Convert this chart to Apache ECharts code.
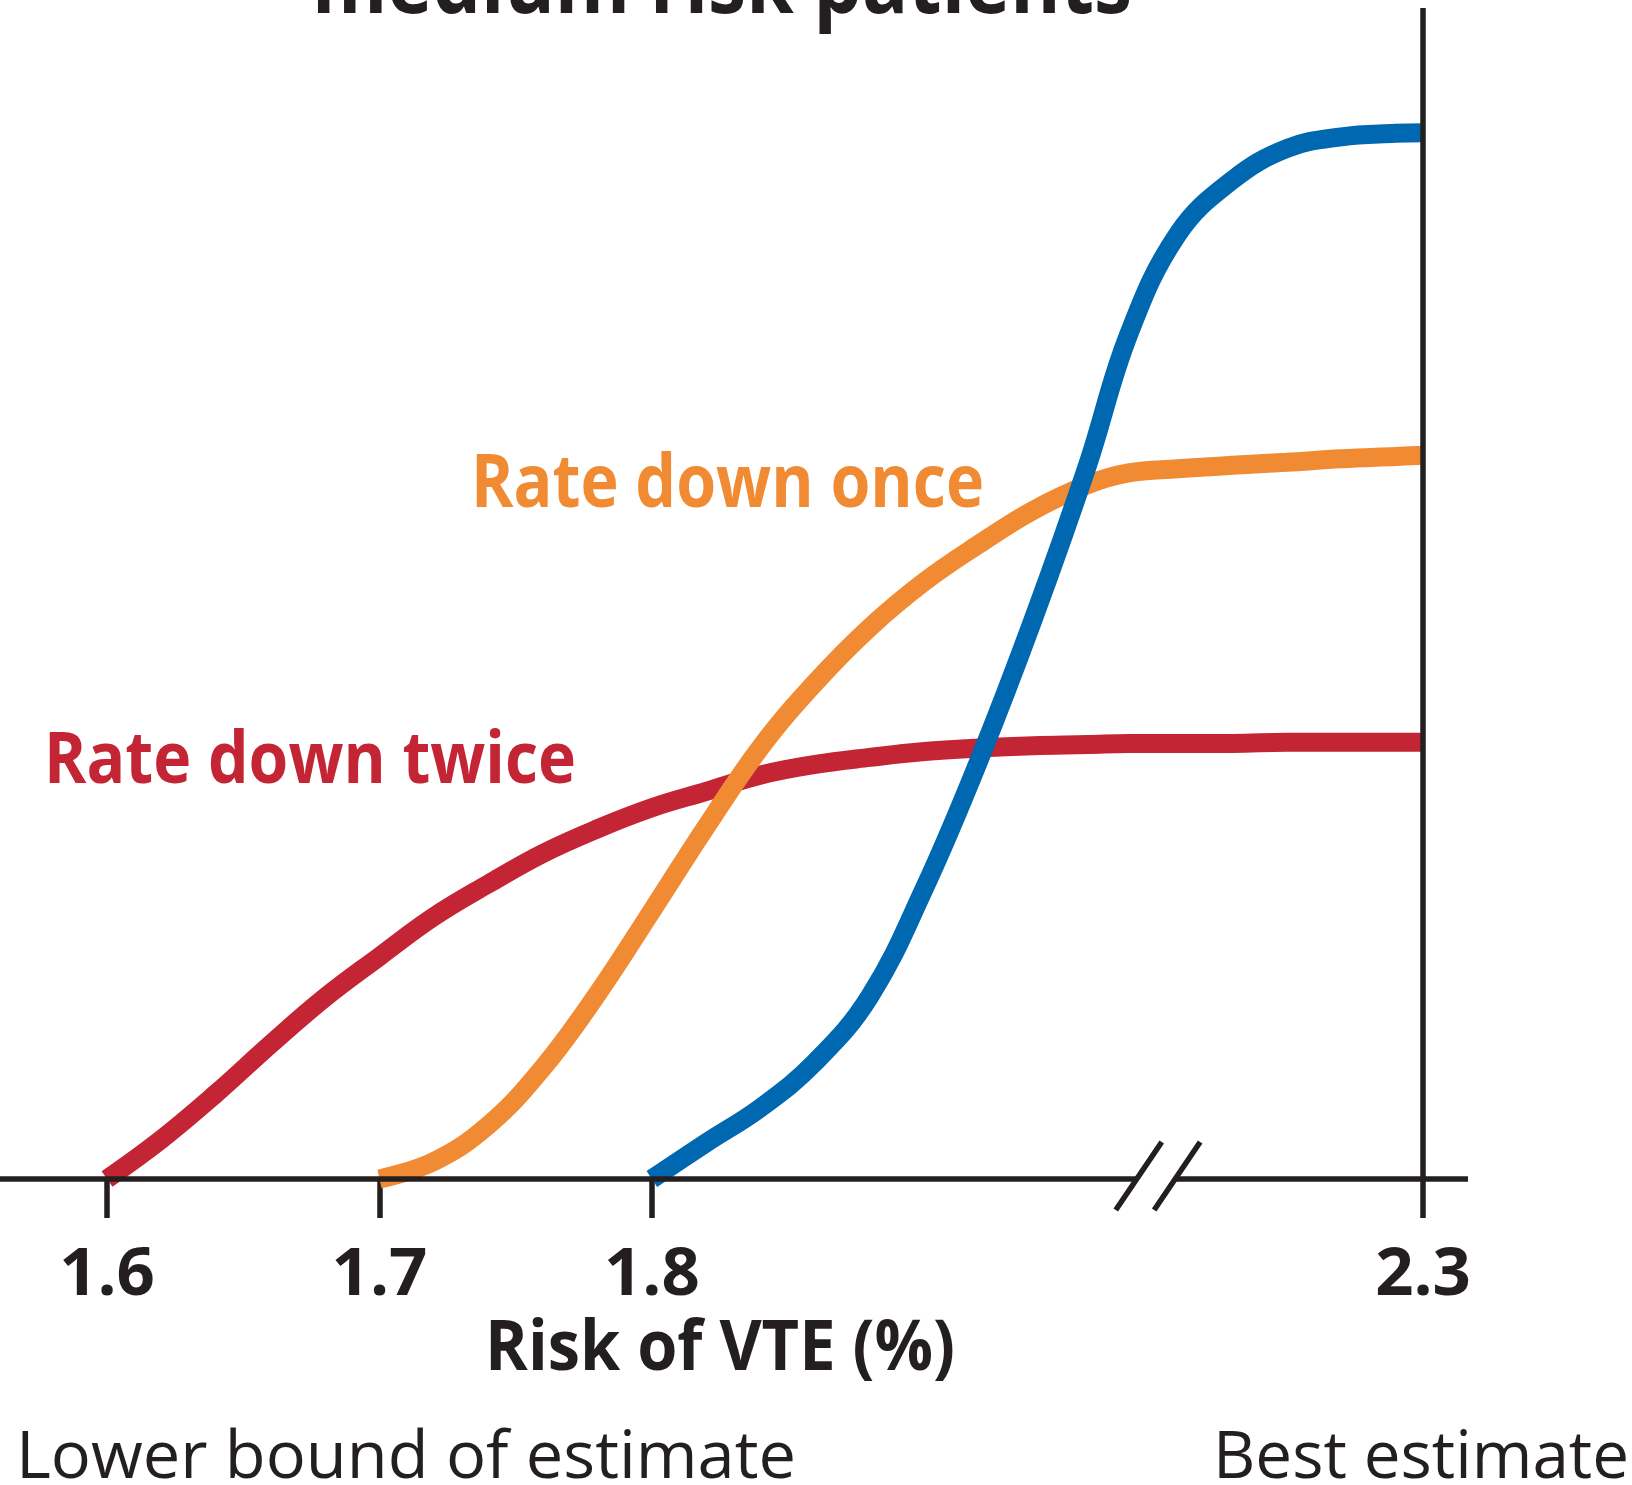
<!DOCTYPE html>
<html>
<head>
<meta charset="utf-8">
<script src="https://cdn.jsdelivr.net/npm/echarts@6/dist/echarts.min.js"></script>
<style>
html,body{margin:0;padding:0;background:#ffffff;}
#chart{width:1632px;height:1485px;}
</style>
</head>
<body>
<div id="chart"></div>
<script>
// ---------- data ----------
const riskX = [1.60,1.62,1.64,1.66,1.68,1.70,1.72,1.74,1.76,1.78,1.80,1.82,1.84,1.86,1.88,1.90,1.92,1.94,1.96,1.975,2.21,2.23,2.25,2.27,2.29,2.30];
const rateDownTwice = [0,3.4,7.3,11.5,15.5,19.0,22.4,25.2,27.8,29.9,31.7,33.1,34.5,35.4,36.0,36.5,36.8,37.0,37.1,37.2,37.2,37.2,37.3,37.3,37.3,37.3];
const rateDownOnce  = [null,null,null,null,null,0,1.5,4.6,9.5,15.8,22.9,30.1,36.9,42.4,47.1,51.0,54.2,57.1,59.3,60.3,60.65,60.95,61.2,61.5,61.7,61.8];
const notRatedDown  = [null,null,null,null,null,null,null,null,null,null,0,3.1,6.1,10.0,15.6,24.8,35.7,47.8,61.0,72.1,80.7,85.3,88.0,89.0,89.3,89.35];
const tickValues = [1.6,1.7,1.8,2.3];
const tickLabels = ['1.6','1.7','1.8','2.3'];
const axisBreak = {start:1.978, end:2.209, gap:0.0141};
const xRange = [1.5607, 2.3165];
const yRange = [0, 100];

const titleText = 'medium risk patients';
const xAxisTitle = 'Risk of VTE (%)';
const onceLabel = 'Rate down once';
const twiceLabel = 'Rate down twice';
const lowerBoundText = 'Lower bound of estimate';
const bestText = 'Best estimate';

// ---------- styling ----------
const INK = '#231f20';
const RED = '#c42535';
const ORANGE = '#f08b33';
const BLUE = '#0067b1';
const FONT = '"Open Sans", "Noto Sans", sans-serif';

function pairs(ys){
  const out = [];
  riskX.forEach((x,i)=>{ if (ys[i] != null) out.push([x, ys[i]]); });
  return out;
}

const chart = echarts.init(document.getElementById('chart'), null, {renderer:'canvas'});

function curve(name, ys, color, w){
  return {
    name, type:'line', data: pairs(ys), smooth:0.4,
    showSymbol:false, symbol:'none', z:2, animation:false,
    itemStyle:{color},
    lineStyle:{color:color, width:w},
    emphasis:{disabled:true}
  };
}

const option = {
  animation:false,
  backgroundColor:'#ffffff',
  grid:{left:0, right:164, top:8, bottom:306, containLabel:false},
  xAxis:{
    type:'value', min:xRange[0], max:xRange[1],
    breaks:[{start:axisBreak.start, end:axisBreak.end, gap:axisBreak.gap}],
    breakArea:{show:false},
    axisLine:{show:false},
    splitLine:{show:false},
    axisTick:{show:true, customValues:tickValues, length:39, inside:false, lineStyle:{color:INK, width:5.5}},
    axisLabel:{show:true, customValues:tickValues, margin:97, verticalAlign:'middle',
      formatter:(v)=>{ const i = tickValues.findIndex(t=>Math.abs(t-v)<1e-6); return i>=0?tickLabels[i]:''; },
      color:INK, fontFamily:FONT, fontWeight:'bold', fontSize:67}
  },
  yAxis:{type:'value', min:yRange[0], max:yRange[1], show:false, splitLine:{show:false}},
  series:[
    curve('Rate down twice', rateDownTwice, RED, 19),
    curve('Rate down once', rateDownOnce, ORANGE, 19),
    curve('Not rated down', notRatedDown, BLUE, 19),
    {
      name:'axes', type:'line', data:[], z:5, silent:true,
      markLine:{
        silent:true, symbol:['none','none'], animation:false, label:{show:false},
        lineStyle:{color:INK, width:5.5, type:'solid', cap:'butt'},
        emphasis:{disabled:true},
        data:[
          [{coord:[xRange[0],0]},{coord:[axisBreak.start,0]}],
          [{coord:[axisBreak.end,0]},{coord:[xRange[1],0]}],
          [{coord:[2.3,0]},{coord:[2.3,yRange[1]]}]
        ]
      }
    }
  ]
};
chart.setOption(option);

// ---------- annotations ----------
const mctx = document.createElement('canvas').getContext('2d');
function fitScale(text, weight, size, width){
  mctx.font = weight + ' ' + size + 'px ' + FONT;
  const w = mctx.measureText(text).width;
  return w > 0 ? width / w : 1;
}
function label(text, x, y, size, weight, color, align, width){
  return {
    type:'text', x, y, scaleX: fitScale(text, weight, size, width), silent:true, z:10,
    style:{text, fill:color, fontFamily:FONT, fontWeight:weight, fontSize:size, align, verticalAlign:'middle'}
  };
}
const pStart = chart.convertToPixel({gridIndex:0}, [axisBreak.start, 0]);
const pEnd = chart.convertToPixel({gridIndex:0}, [axisBreak.end, 0]);
function slash(p){
  return {type:'line', silent:true, z:10,
    shape:{x1:p[0]-21, y1:p[1]+31, x2:p[0]+25, y2:p[1]-37},
    style:{stroke:INK, lineWidth:5.5, lineCap:'butt'}};
}
chart.setOption({
  graphic:[
    label(titleText, 312, -12, 88, 'bold', INK, 'left', 820),
    label(onceLabel, 471, 486, 73, 'bold', ORANGE, 'left', 513),
    label(twiceLabel, 44, 762, 72, 'bold', RED, 'left', 532),
    label(xAxisTitle, 485, 1350, 70, 'bold', INK, 'left', 470),
    label(lowerBoundText, 16, 1459, 66, 'normal', INK, 'left', 780),
    label(bestText, 1629, 1459, 66, 'normal', INK, 'right', 416),
    slash(pStart),
    slash(pEnd)
  ]
});
</script>
</body>
</html>
